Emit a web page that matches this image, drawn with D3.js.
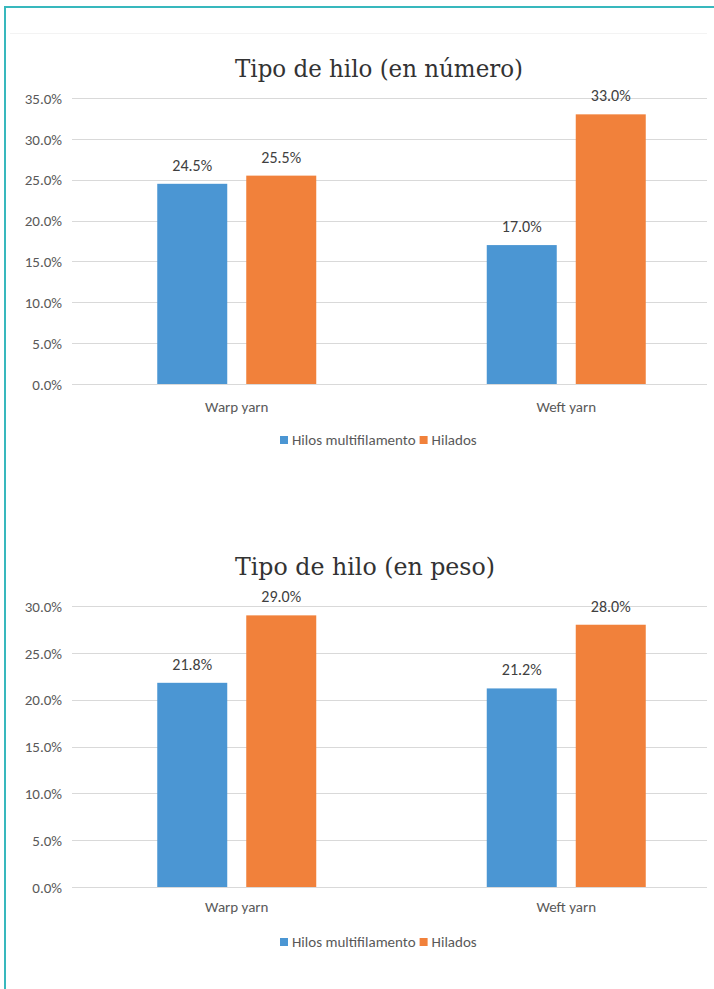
<!DOCTYPE html>
<html>
<head>
<meta charset="utf-8">
<script src="https://cdn.jsdelivr.net/npm/d3@7"></script>
<style>
  html, body { margin: 0; padding: 0; background: #fff; }
  svg { display: block; }
</style>
</head>
<body>
<svg id="chart" width="714" height="989"></svg>
<script>
// ---- data ----
const categories = ["Warp yarn", "Weft yarn"];
const seriesNames = ["Hilos multifilamento", "Hilados"];
const seriesColors = ["#4b96d3", "#f1813b"];

const titleNumber = "Tipo de hilo (en número)";
const numberMulti = [0.245, 0.170];
const numberHilados = [0.255, 0.330];
const numberTicks = [0, 0.05, 0.10, 0.15, 0.20, 0.25, 0.30, 0.35];

const titleWeight = "Tipo de hilo (en peso)";
const weightMulti = [0.218, 0.212];
const weightHilados = [0.290, 0.280];
const weightTicks = [0, 0.05, 0.10, 0.15, 0.20, 0.25, 0.30];

// ---- drawing ----
const svg = d3.select("#chart");
const fontSans = "Carlito, Calibri, 'Liberation Sans Narrow', Lato, 'Open Sans', sans-serif";
const fontTitle = "'DejaVu Serif Condensed', 'Liberation Serif', 'DejaVu Serif', serif";
const pct = d3.format(".1%");

// frame
svg.append("line").attr("x1", 5).attr("x2", 5).attr("y1", 6).attr("y2", 989)
  .attr("stroke", "#38b8bd").attr("stroke-width", 2);
svg.append("line").attr("x1", 4).attr("x2", 714).attr("y1", 7).attr("y2", 7)
  .attr("stroke", "#38b8bd").attr("stroke-width", 2);
svg.append("line").attr("x1", 10).attr("x2", 707).attr("y1", 33.5).attr("y2", 33.5)
  .attr("stroke", "#f3f3f3").attr("stroke-width", 1);

function drawChart(cfg) {
  const g = svg.append("g");
  const y = d3.scaleLinear().domain([0, cfg.ticks[cfg.ticks.length - 1]]).range([cfg.y0, cfg.yTop]);
  const x0 = d3.scaleBand().domain(categories).range([72, 731]).paddingInner(0).paddingOuter(0);
  const x1 = d3.scaleBand().domain(seriesNames).range([-79.5, 79.5]).paddingInner(19 / 89).paddingOuter(0);

  // y axis labels
  const yAxis = d3.axisLeft(y).tickValues(cfg.ticks).tickFormat(pct).tickSize(0).tickPadding(10);
  const ga = g.append("g").attr("transform", "translate(62,0)").call(yAxis);
  ga.select(".domain").remove();
  ga.selectAll("text").attr("font-family", fontSans).attr("font-size", 15).attr("fill", "#595959")
    .attr("x", 0).attr("dy", "0.35em");

  // gridlines
  g.append("g").selectAll("line").data(cfg.ticks).join("line")
    .attr("x1", 72).attr("x2", 707)
    .attr("y1", d => Math.round(y(d)) + 0.5).attr("y2", d => Math.round(y(d)) + 0.5)
    .attr("stroke", "#d9d9d9").attr("stroke-width", 1);

  // bars
  const rows = [];
  categories.forEach((c, i) => {
    cfg.series.forEach((s, j) => rows.push({ cat: c, ser: seriesNames[j], val: s[i], j }));
  });
  const bx = d => x0(d.cat) + x0.bandwidth() / 2 + x1(d.ser);
  g.append("g").selectAll("rect").data(rows).join("rect")
    .attr("x", bx)
    .attr("width", x1.bandwidth())
    .attr("y", d => y(d.val))
    .attr("height", d => y(0) - y(d.val))
    .attr("fill", d => seriesColors[d.j]);

  g.append("g").selectAll("text").data(rows).join("text")
    .attr("x", d => bx(d) + x1.bandwidth() / 2)
    .attr("y", d => y(d.val) - 13)
    .attr("text-anchor", "middle")
    .attr("font-family", fontSans).attr("font-size", 16).attr("fill", "#404040")
    .text(d => pct(d.val));

  // x axis labels
  const xAxis = d3.axisBottom(x0).tickSize(0).tickPadding(0);
  const gx = g.append("g").attr("transform", `translate(0,${cfg.y0})`).call(xAxis);
  gx.select(".domain").remove();
  gx.selectAll("text").attr("font-family", fontSans).attr("font-size", 15).attr("fill", "#595959")
    .attr("y", cfg.catBaseline - cfg.y0).attr("dy", 0);

  // title
  g.append("text")
    .attr("x", cfg.titleX).attr("y", cfg.titleY)
    .attr("textLength", cfg.titleW).attr("lengthAdjust", "spacingAndGlyphs")
    .attr("font-family", fontTitle).attr("font-size", 25).attr("fill", "#333333")
    .text(cfg.title);

  // legend
  const lg = g.append("g");
  let cx = 280;
  seriesNames.forEach((name, j) => {
    lg.append("rect").attr("x", cx).attr("y", cfg.legendY - 4).attr("width", 8).attr("height", 8)
      .attr("fill", seriesColors[j]);
    const t = lg.append("text").attr("x", cx + 12).attr("y", cfg.legendY).attr("dy", "0.35em")
      .attr("font-family", fontSans).attr("font-size", 15).attr("fill", "#595959").text(name);
    cx = cx + 12 + t.node().getComputedTextLength() + 4;
  });
}

drawChart({
  title: titleNumber, titleX: 235, titleY: 77, titleW: 288,
  series: [numberMulti, numberHilados], ticks: numberTicks,
  y0: 384, yTop: 98, catBaseline: 412, legendY: 440
});
drawChart({
  title: titleWeight, titleX: 235, titleY: 575, titleW: 260,
  series: [weightMulti, weightHilados], ticks: weightTicks,
  y0: 887, yTop: 606, catBaseline: 912, legendY: 942
});
</script>
</body>
</html>
